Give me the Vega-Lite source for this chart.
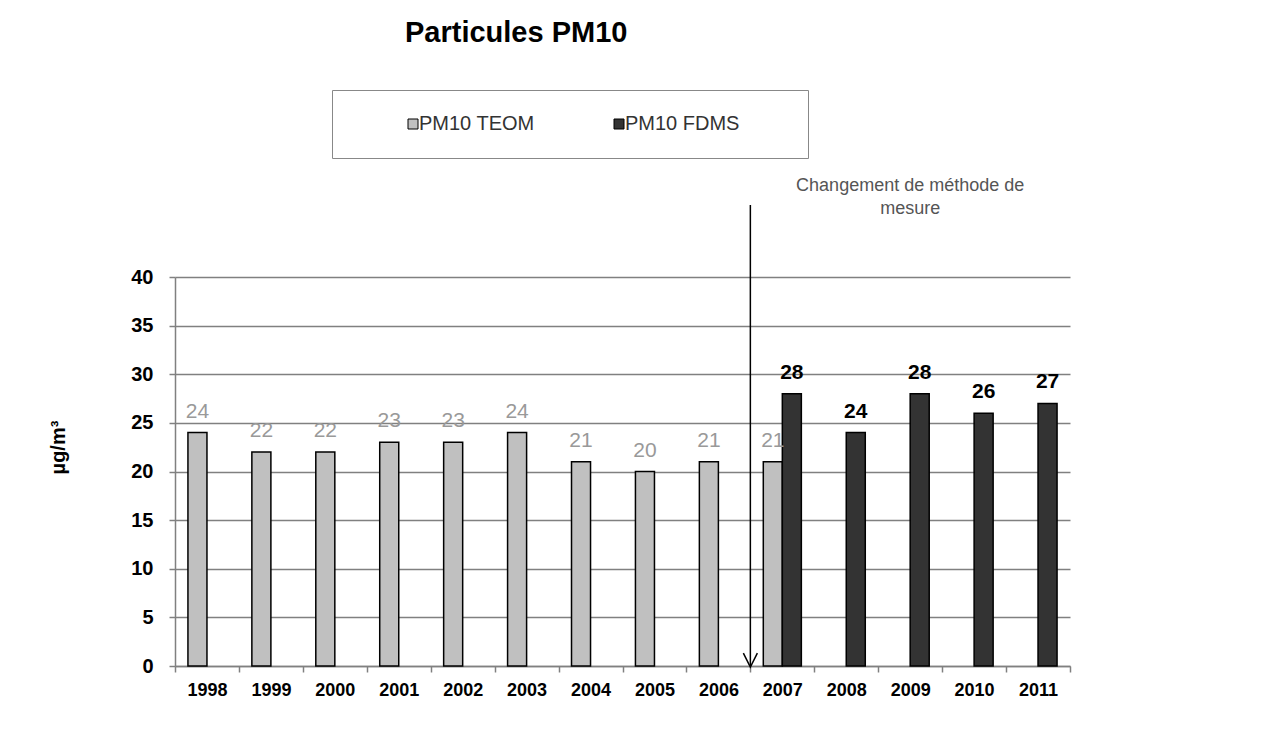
{
  "$schema": "https://vega.github.io/schema/vega-lite/v6.json",
  "autosize": {"type": "none"},
  "width": 895,
  "height": 389,
  "padding": {"left": 175, "top": 277, "right": 209, "bottom": 83},
  "background": "white",
  "config": {
    "view": {"stroke": null},
    "font": "Liberation Sans"
  },
  "title": {
    "text": "Particules PM10",
    "font": "Liberation Sans",
    "fontSize": 29,
    "fontWeight": "bold",
    "color": "black",
    "anchor": "start",
    "frame": "group",
    "dx": 230,
    "offset": 19,
    "baseline": "alphabetic"
  },
  "data": {
    "values": [
      {"year": "1998", "series": "PM10 TEOM", "value": 24},
      {"year": "1999", "series": "PM10 TEOM", "value": 22},
      {"year": "2000", "series": "PM10 TEOM", "value": 22},
      {"year": "2001", "series": "PM10 TEOM", "value": 23},
      {"year": "2002", "series": "PM10 TEOM", "value": 23},
      {"year": "2003", "series": "PM10 TEOM", "value": 24},
      {"year": "2004", "series": "PM10 TEOM", "value": 21},
      {"year": "2005", "series": "PM10 TEOM", "value": 20},
      {"year": "2006", "series": "PM10 TEOM", "value": 21},
      {"year": "2007", "series": "PM10 TEOM", "value": 21},
      {"year": "2007", "series": "PM10 FDMS", "value": 28},
      {"year": "2008", "series": "PM10 FDMS", "value": 24},
      {"year": "2009", "series": "PM10 FDMS", "value": 28},
      {"year": "2010", "series": "PM10 FDMS", "value": 26},
      {"year": "2011", "series": "PM10 FDMS", "value": 27}
    ]
  },
  "layer": [
    {
      "mark": {"type": "bar", "stroke": "black", "strokeWidth": 1.5},
      "encoding": {
        "x": {
          "field": "year",
          "type": "nominal",
          "scale": {"paddingInner": 0, "paddingOuter": 0},
          "axis": {
            "title": null,
            "labelAngle": 0,
            "labelFont": "Liberation Sans",
            "labelFontSize": 18,
            "labelFontWeight": "bold",
            "labelColor": "black",
            "labelPadding": 9,
            "tickBand": "extent",
            "tickSize": 6,
            "tickColor": "#808080",
            "tickWidth": 1.5,
            "domainColor": "#808080",
            "domainWidth": 1.5,
            "grid": false
          }
        },
        "y": {
          "field": "value",
          "type": "quantitative",
          "scale": {"domain": [0, 40], "nice": false},
          "axis": {
            "title": "µg/m³",
            "titleFont": "Liberation Sans",
            "titleFontSize": 20,
            "titleFontWeight": "bold",
            "titleColor": "black",
            "titleX": -117,
            "titleY": 170,
            "titleAngle": -90,
            "titleAlign": "center",
            "titleBaseline": "middle",
            "values": [0, 5, 10, 15, 20, 25, 30, 35, 40],
            "labelFont": "Liberation Sans",
            "labelFontSize": 20,
            "labelFontWeight": "bold",
            "labelColor": "black",
            "labelPadding": 16,
            "tickSize": 6,
            "tickColor": "#808080",
            "tickWidth": 1.5,
            "domainColor": "#808080",
            "domainWidth": 1.5,
            "grid": true,
            "gridColor": "#808080",
            "gridWidth": 1.5
          }
        },
        "xOffset": {
          "field": "series",
          "type": "nominal",
          "scale": {"domain": ["PM10 TEOM", "PM10 FDMS"], "paddingInner": 0, "paddingOuter": 0.68}
        },
        "color": {
          "field": "series",
          "type": "nominal",
          "scale": {"domain": ["PM10 TEOM", "PM10 FDMS"], "range": ["#c0c0c0", "#333333"]},
          "legend": {
            "title": null,
            "orient": "none",
            "legendX": 157,
            "legendY": -187,
            "direction": "horizontal",
            "strokeColor": "#888888",
            "padding": 24,
            "symbolType": "square",
            "symbolSize": 100,
            "symbolStrokeColor": "black",
            "symbolStrokeWidth": 1,
            "symbolOffset": 47,
            "columnPadding": 27,
            "labelOffset": -4,
            "labelLimit": 400,
            "labelFont": "Liberation Sans",
            "labelFontSize": 20,
            "labelColor": "#333333",
            "labelExpr": "datum.label == 'PM10 FDMS' ? datum.label + '\u00a0\u00a0\u00a0\u00a0\u00a0\u00a0\u00a0\u00a0\u200b' : datum.label"
          }
        }
      }
    },
    {
      "transform": [{"filter": "datum.series == 'PM10 TEOM'"}],
      "mark": {"type": "text", "font": "Liberation Sans", "fontSize": 21, "color": "#999999", "baseline": "alphabetic", "dy": -15},
      "encoding": {
        "x": {"field": "year", "type": "nominal"},
        "y": {"field": "value", "type": "quantitative"},
        "xOffset": {"field": "series", "type": "nominal"},
        "text": {"field": "value", "type": "quantitative"}
      }
    },
    {
      "transform": [{"filter": "datum.series == 'PM10 FDMS'"}],
      "mark": {"type": "text", "font": "Liberation Sans", "fontSize": 21, "fontWeight": "bold", "color": "black", "baseline": "alphabetic", "dy": -15},
      "encoding": {
        "x": {"field": "year", "type": "nominal"},
        "y": {"field": "value", "type": "quantitative"},
        "xOffset": {"field": "series", "type": "nominal"},
        "text": {"field": "value", "type": "quantitative"}
      }
    },
    {
      "data": {"values": [{"note": "Changement de méthode de mesure"}]},
      "mark": {"type": "rule", "color": "black", "strokeWidth": 1.5},
      "encoding": {
        "x": {"datum": "2007", "type": "nominal", "bandPosition": 0},
        "y": {"datum": 47.4, "type": "quantitative"},
        "y2": {"datum": 0}
      }
    },
    {
      "data": {"values": [{"note": "Changement de méthode de mesure"}]},
      "mark": {"type": "point", "shape": "M-1,-1L0,1L1,-1", "size": 196, "filled": false, "stroke": "black", "strokeWidth": 1.5, "opacity": 1},
      "encoding": {
        "x": {"datum": "2007", "type": "nominal", "bandPosition": 0},
        "y": {"datum": 0.6, "type": "quantitative"}
      }
    },
    {
      "data": {"values": [{"note": "Changement de méthode de mesure"}]},
      "mark": {"type": "text", "text": ["Changement de méthode de", "mesure"], "font": "Liberation Sans", "fontSize": 18, "color": "#555555", "align": "center", "baseline": "alphabetic", "lineHeight": 23},
      "encoding": {
        "x": {"datum": "2009", "type": "nominal"},
        "y": {"datum": 48.8, "type": "quantitative"}
      }
    }
  ]
}
